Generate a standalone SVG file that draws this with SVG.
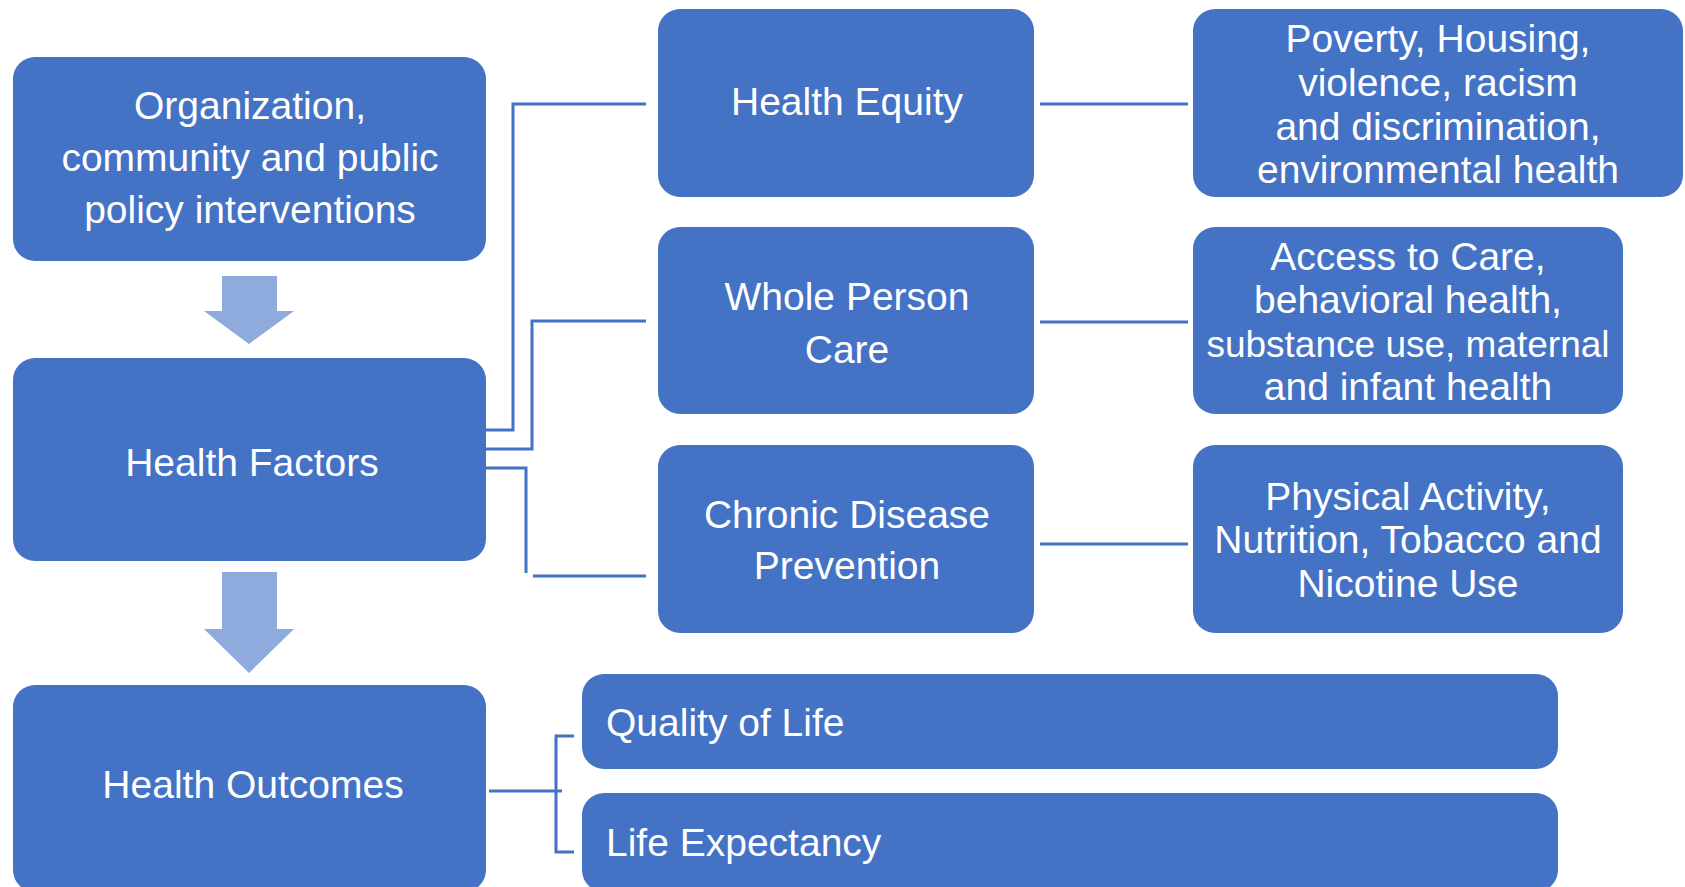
<svg xmlns="http://www.w3.org/2000/svg" width="1685" height="887" viewBox="0 0 1685 887">
<style>
.box{fill:#4472C4;}
.t{font-family:"Liberation Sans",Arial,sans-serif;font-size:39px;fill:#ffffff;text-anchor:middle;}
.tl{font-family:"Liberation Sans",Arial,sans-serif;font-size:39px;fill:#ffffff;text-anchor:start;}
.c{fill:none;stroke:#4472C4;stroke-width:3;}
.arr{fill:#8FAADC;}
</style>
<rect x="0" y="0" width="1685" height="887" fill="#ffffff"/>
<g id="connectors">
<polyline class="c" points="486,430 513,430 513,104 646,104"/>
<polyline class="c" points="486,449 532,449 532,321 646,321"/>
<polyline class="c" points="486,468 526,468 526,573"/>
<line class="c" x1="533" y1="576" x2="646" y2="576"/>
<line class="c" x1="1040" y1="104" x2="1188" y2="104"/>
<line class="c" x1="1040" y1="322" x2="1188" y2="322"/>
<line class="c" x1="1040" y1="544" x2="1188" y2="544"/>
<line class="c" x1="489" y1="791" x2="562" y2="791"/>
<polyline class="c" points="574,736 556,736 556,852 574,852"/>
</g>
<g id="arrow1"><polygon class="arr" points="222,276 277,276 277,311 294,311 249,344 204,311 222,311"/></g>
<g id="arrow2"><polygon class="arr" points="222,572 277,572 277,629 294,629 249,673 204,629 222,629"/></g>
<g id="node-interventions">
<rect class="box" x="13" y="57" width="473" height="204" rx="22"/>
<text class="t" x="250" y="119">Organization,</text>
<text class="t" x="250" y="171">community and public</text>
<text class="t" x="250" y="223">policy interventions</text>
</g>
<g id="node-factors">
<rect class="box" x="13" y="358" width="473" height="203" rx="22"/>
<text class="t" x="252" y="476">Health Factors</text>
</g>
<g id="node-outcomes">
<rect class="box" x="13" y="685" width="473" height="207" rx="22"/>
<text class="t" x="253" y="798">Health Outcomes</text>
</g>
<g id="node-equity">
<rect class="box" x="658" y="9" width="376" height="188" rx="22"/>
<text class="t" x="847" y="115">Health Equity</text>
</g>
<g id="node-wholeperson">
<rect class="box" x="658" y="227" width="376" height="187" rx="22"/>
<text class="t" x="847" y="310">Whole Person</text>
<text class="t" x="847" y="363">Care</text>
</g>
<g id="node-chronic">
<rect class="box" x="658" y="445" width="376" height="188" rx="22"/>
<text class="t" x="847" y="528">Chronic Disease</text>
<text class="t" x="847" y="579">Prevention</text>
</g>
<g id="node-poverty">
<rect class="box" x="1193" y="9" width="490" height="188" rx="22"/>
<text class="t" x="1438" y="52">Poverty, Housing,</text>
<text class="t" x="1438" y="96">violence, racism</text>
<text class="t" x="1438" y="140">and discrimination,</text>
<text class="t" x="1438" y="183">environmental health</text>
</g>
<g id="node-access">
<rect class="box" x="1193" y="227" width="430" height="187" rx="22"/>
<text class="t" x="1408" y="270">Access to Care,</text>
<text class="t" x="1408" y="313">behavioral health,</text>
<text class="t" x="1408" y="357" style="font-size:37px">substance use, maternal</text>
<text class="t" x="1408" y="400">and infant health</text>
</g>
<g id="node-physical">
<rect class="box" x="1193" y="445" width="430" height="188" rx="22"/>
<text class="t" x="1408" y="510">Physical Activity,</text>
<text class="t" x="1408" y="553">Nutrition, Tobacco and</text>
<text class="t" x="1408" y="597">Nicotine Use</text>
</g>
<g id="node-quality">
<rect class="box" x="582" y="674" width="976" height="95" rx="22"/>
<text class="tl" x="606" y="736">Quality of Life</text>
</g>
<g id="node-life">
<rect class="box" x="582" y="793" width="976" height="99" rx="22"/>
<text class="tl" x="606" y="856">Life Expectancy</text>
</g>
</svg>
